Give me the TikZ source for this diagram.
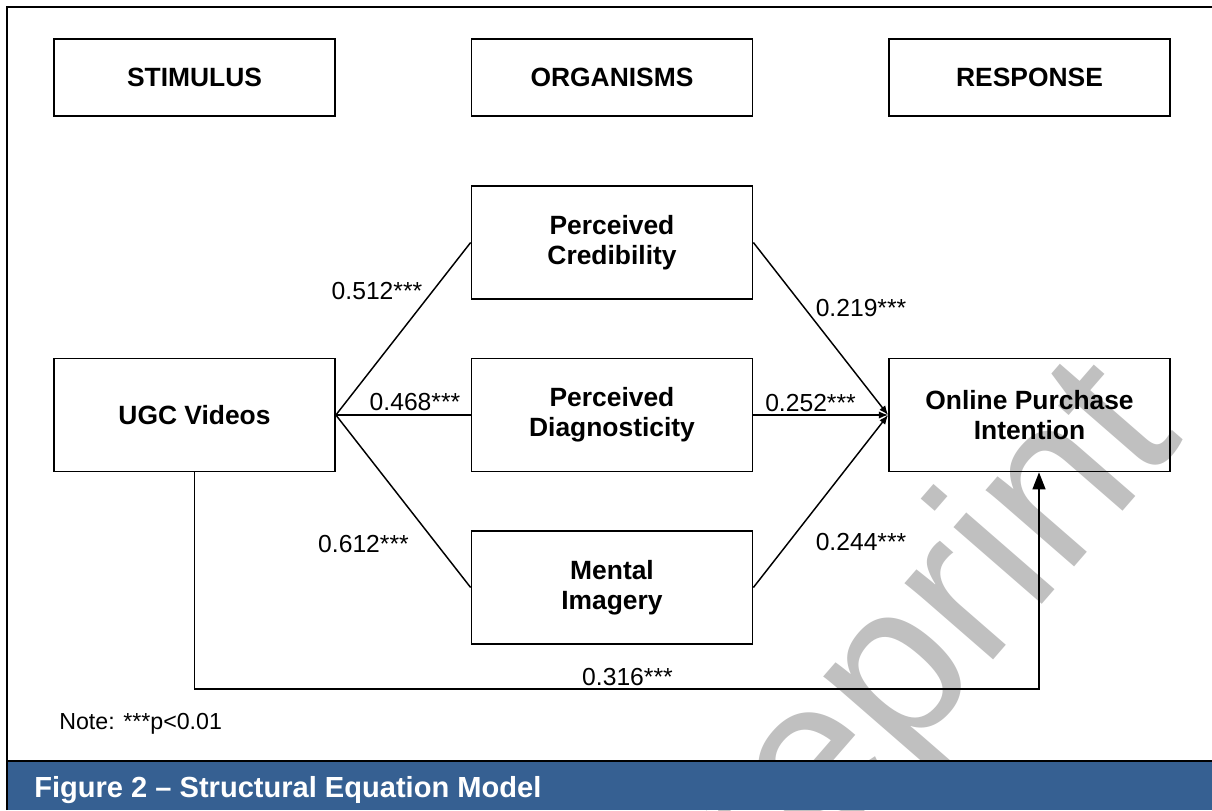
\documentclass[tikz,border=0pt]{standalone}
\usepackage{fontspec}
\setmainfont{Liberation Sans}
\usetikzlibrary{arrows.meta}
\definecolor{capblue}{RGB}{54,96,146}
\definecolor{wmgray}{RGB}{192,192,192}
\begin{document}
\begin{tikzpicture}[x=0.75pt,y=-0.75pt,
  box/.style={draw=black,line width=1.3pt,align=center,font=\fontsize{19.8}{22.5}\selectfont\bfseries,inner sep=0pt,minimum width=210.75pt},
  hbox/.style={box,minimum height=57.75pt},
  vbox/.style={box,minimum height=84.75pt},
  coef/.style={font=\fontsize{18.5}{22}\selectfont,inner sep=0pt},
  link/.style={line width=1.1pt},
  arr/.style={link,-{Latex[length=7pt,width=5.5pt]}},
  bigarr/.style={link,-{Triangle[length=12.75pt,width=9.75pt]}}
]
\useasboundingbox (0,0) rectangle (1212,810);
\fill[white] (0,0) rectangle (1212,810);
% watermark
\node[text=wmgray,rotate=49,font=\fontsize{166}{166}\selectfont,inner sep=0pt] (wm) at (888,694) {Preprint};
% header boxes
\node[hbox] (STIM) at (194.5,77.5) {STIMULUS};
\node[hbox] (ORG) at (612,77.5) {ORGANISMS};
\node[hbox] (RESP) at (1029.5,77.5) {RESPONSE};
% model boxes
\node[vbox] (UGC) at (194.5,415) {UGC Videos};
\node[vbox] (PC) at (612,242.5) {Perceived\\Credibility};
\node[vbox] (PD) at (612,415) {Perceived\\Diagnosticity};
\node[vbox] (MI) at (612,587.5) {Mental\\Imagery};
\node[vbox] (OPI) at (1029.5,415) {Online Purchase\\Intention};
% connectors
\draw[link] (UGC.east) -- (PC.west);
\draw[link] (UGC.east) -- (PD.west);
\draw[link] (UGC.east) -- (MI.west);
\draw[arr] (PC.east) -- (OPI.west);
\draw[arr] (PD.east) -- (OPI.west);
\draw[arr] (MI.east) -- (OPI.west);
\coordinate (d2) at (1039,689);
\draw[bigarr] (UGC.south) -- (UGC.south |- d2) -- (d2) -- (d2 |- OPI.south);
% coefficients
\node[coef] (c1) at (377,291) {0.512***};
\node[coef] (c2) at (415,402) {0.468***};
\node[coef] (c3) at (363.5,544) {0.612***};
\node[coef] (c4) at (861,308) {0.219***};
\node[coef] (c5) at (810.5,403) {0.252***};
\node[coef] (c6) at (861,542) {0.244***};
\node[coef] (c7) at (627.5,677) {0.316***};
\node[anchor=base west,inner sep=0pt,font=\fontsize{17.4}{20}\selectfont] (note) at (59,729) {Note: ***p<0.01};
% caption bar
\fill[capblue] (7,761) rectangle (1212,810);
\draw[line width=1.5pt] (7,761) -- (1212,761);
\node[anchor=base west,inner sep=0pt,text=white,font=\fontsize{21.8}{24}\selectfont\bfseries] (cap) at (34,797) {Figure 2 – Structural Equation Model};
% frame
\draw[line width=2.2pt] (7,810) -- (7,7) -- (1212,7);
\end{tikzpicture}
\end{document}
